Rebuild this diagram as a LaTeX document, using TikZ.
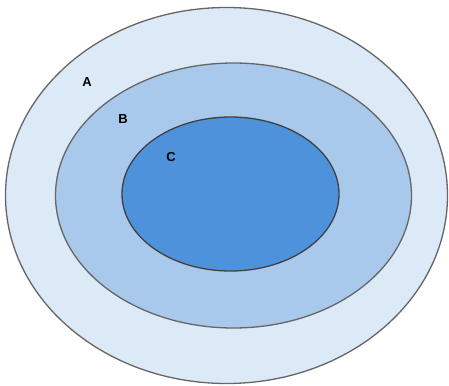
\documentclass[tikz,border=0pt]{standalone}
\usepackage{fontspec}
\setmainfont{Liberation Sans}
\usepackage{xcolor}
\definecolor{ringA}{HTML}{DCE9F7}
\definecolor{ringB}{HTML}{A8C9EC}
\definecolor{ringC}{HTML}{4D92DA}
\definecolor{rim}{HTML}{666666}
\begin{document}
\begin{tikzpicture}[
      x=1pt, y=-1pt,
      ring/.style={draw=rim, line width=1.3pt},
      tag/.style={font=\bfseries\fontsize{13}{13}\selectfont, inner sep=0pt},
    ]
    \useasboundingbox (0,0) rectangle (449,385);
    \filldraw[ring, fill=ringA] (226.5,195.5) ellipse [x radius=221, y radius=188];
    \filldraw[ring, fill=ringB] (233.5,195.5) ellipse [x radius=178, y radius=132.5];
    \filldraw[ring, fill=ringC, draw=black!75] (230.5,194) ellipse [x radius=108.5, y radius=77];
    \node[tag] (labA) at (87,82) {A};
    \node[tag] (labB) at (123,119) {B};
    \node[tag] (labC) at (171,157) {C};
  \end{tikzpicture}
\end{document}
